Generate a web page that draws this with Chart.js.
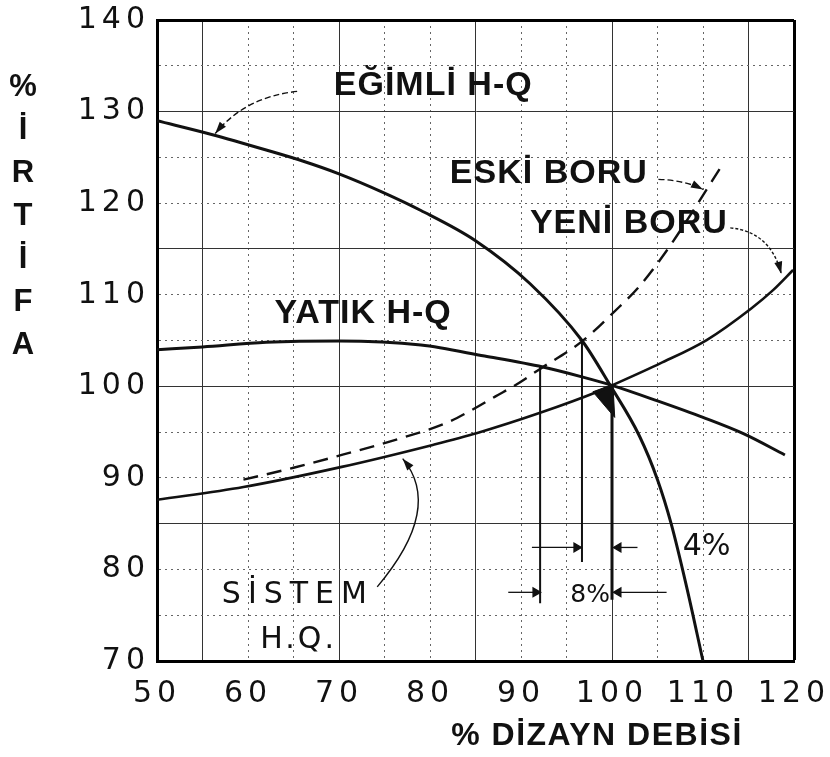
<!DOCTYPE html>
<html>
<head>
<meta charset="utf-8">
<title>H-Q</title>
<script src="https://cdn.jsdelivr.net/npm/chart.js@4.4.1/dist/chart.umd.min.js"></script>
<style>
body { margin: 0; background: #fff; }
#wrap { position: relative; width: 830px; height: 757px; }
#ytitle { position: absolute; left: 3px; top: 64px; width: 40px; text-align: center; color: #111;
  font: bold 31px 'Liberation Sans', Arial, sans-serif; line-height: 43px; }
#xtitle { position: absolute; left: 440px; top: 716px; width: 314px; text-align: center; color: #111;
  font: bold 32px 'Liberation Sans', Arial, sans-serif; line-height: 36px; letter-spacing: 1.5px; white-space: nowrap; }
</style>
</head>
<body>
<div id="wrap">
  <canvas id="hqChart" width="830" height="757"></canvas>
  <div id="ytitle">%<br>İ<br>R<br>T<br>İ<br>F<br>A</div>
  <div id="xtitle">% DİZAYN DEBİSİ</div>
</div>
<script>
// tick labels
var flowTicks = [50, 60, 70, 80, 90, 100, 110, 120];
var headTicks = [70, 80, 90, 100, 110, 120, 130, 140];

// steep pump curve (EĞİMLİ H-Q)
var steepQ = [50, 56, 62, 66, 70, 75, 79, 85, 91, 96.7, 99.8, 103, 105, 106.5, 108.2, 110];
var steepH = [129, 127.5, 125.8, 124.6, 123.2, 121.1, 119.2, 115.9, 111.2, 105, 100.1, 94.6, 89.8, 85, 78.1, 70];

// flat pump curve (YATIK H-Q)
var flatQ = [50, 55, 62, 70, 79, 86, 92.4, 96.8, 100, 105, 110, 114.5, 119];
var flatH = [104, 104.3, 104.8, 104.95, 104.5, 103.3, 102.1, 101, 100.1, 98.4, 96.6, 94.8, 92.5];

// system curve, new pipe (SİSTEM H.Q. / YENİ BORU)
var newPipeQ = [50, 59.5, 70.3, 80.3, 85.2, 92.1, 98.4, 100, 105.3, 110.4, 115.3, 117.7, 119.9];
var newPipeH = [87.6, 89.0, 91.2, 93.6, 94.9, 97.1, 99.4, 100.1, 102.5, 105.05, 108.5, 110.5, 112.7];

// system curve, old pipe (ESKİ BORU) - dashed
var oldPipeQ = [59.5, 65, 70.3, 76.7, 81.8, 84.4, 87.2, 89.5, 92.1, 96.7, 100.2, 103, 106, 109, 112];
var oldPipeH = [89.8, 91.1, 92.5, 94.3, 96.0, 97.3, 98.9, 100.2, 101.9, 104.9, 108.1, 110.9, 114.8, 119.3, 124.0];

// dimension lines under the operating points
var dimQ = [92.1, 96.7, 100];
var dimTop = [102.1, 104.9, 100];
var dimBottom = [76.3, 80.8, 76.7];

// the little arrows pointing at the dimension lines
var arrowFrom = [91.2, 102.8, 88.6, 106];
var arrowTo = [96.1, 100.7, 91.6, 100.7];
var arrowH = [82.4, 82.4, 77.5, 77.5];

// dark wedge at the 100/100 point
var wedgeQ = [97.9, 100.1, 100.3, 97.9];
var wedgeH = [99.4, 100.2, 96.6, 99.4];

function toPoints(xs, ys) {
    return xs.map(function(x, i) { return { x: x, y: ys[i] }; });
}

function isThick(v) {
    // graph paper: heavier line every 15 units
    return Math.abs(v % 15 - 10) < 0.01;
}

var datasets = [];

function curve(xs, ys, width, dash) {
    datasets.push({
        data: toPoints(xs, ys),
        showLine: true,
        borderColor: '#111',
        borderWidth: width,
        borderDash: dash || [],
        pointRadius: 0,
        cubicInterpolationMode: 'monotone',
        fill: false
    });
}

curve(steepQ, steepH, 3);
curve(flatQ, flatH, 3);
curve(newPipeQ, newPipeH, 2.6);
curve(oldPipeQ, oldPipeH, 2.4, [15, 9]);

dimQ.forEach(function(q, i) {
    datasets.push({
        data: [{ x: q, y: dimTop[i] }, { x: q, y: dimBottom[i] }],
        showLine: true,
        borderColor: '#111',
        borderWidth: i === 2 ? 3 : 2,
        pointRadius: 0,
        tension: 0
    });
});

arrowFrom.forEach(function(q, i) {
    var right = arrowTo[i] > q;
    datasets.push({
        data: [{ x: q, y: arrowH[i] }, { x: arrowTo[i], y: arrowH[i] }],
        showLine: true,
        borderColor: '#111',
        borderWidth: 1.3,
        backgroundColor: '#111',
        pointStyle: 'triangle',
        pointRadius: [0, 5],
        rotation: right ? 90 : -90,
        tension: 0
    });
});

datasets.push({
    data: toPoints(wedgeQ, wedgeH),
    showLine: true,
    borderColor: '#111',
    borderWidth: 1,
    backgroundColor: '#111',
    pointRadius: 0,
    tension: 0,
    fill: 'shape'
});

// curve labels and leader arrows, placed in data units
var labelFont = 'bold 34px "Liberation Sans", Arial, sans-serif';
var thinFont = '30px "DejaVu Sans", sans-serif';
var notes = [
    { text: 'EĞİMLİ H-Q', q: 80.3, h: 131.8, font: labelFont, gap: 1 },
    { text: 'ESKİ BORU', q: 93.0, h: 122.2, font: labelFont, gap: 1 },
    { text: 'YENİ BORU', q: 101.8, h: 116.7, font: labelFont, gap: 1 },
    { text: 'YATIK H-Q', q: 72.6, h: 106.9, font: labelFont, gap: 1 },
    { text: 'SİSTEM', q: 65.1, h: 76.3, font: thinFont, gap: 7 },
    { text: 'H.Q.', q: 65.4, h: 71.4, font: thinFont, gap: 3 },
    { text: '4%', q: 110.4, h: 81.6, font: '30px "DejaVu Sans", sans-serif', gap: 0 },
    { text: '8%', q: 97.6, h: 76.4, font: '25px "DejaVu Sans", sans-serif', gap: 0 }
];
var leaders = [
    { from: [65.4, 132.2], via: [59.7, 131.6], to: [56.4, 127.6], dash: [6, 3] },
    { from: [105.1, 122.6], via: [108, 122.5], to: [110.0, 121.5], dash: [6, 3] },
    { from: [113, 117.3], via: [117.4, 116.9], to: [118.6, 112.3], dash: [3, 2] },
    { from: [74.2, 78.1], via: [81.5, 86.7], to: [77.0, 92.1], dash: [] }
];

var notesPlugin = {
    id: 'notes',
    beforeDraw: function(chart) {
        // the scanned tick digits are spaced wide
        chart.ctx.letterSpacing = '5px';
    },
    beforeDatasetsDraw: function(chart) {
        chart.ctx.letterSpacing = '0px';
    },
    afterDatasetsDraw: function(chart) {
        var ctx = chart.ctx;
        var sx = chart.scales.x, sy = chart.scales.y;
        function px(p) { return [sx.getPixelForValue(p[0]), sy.getPixelForValue(p[1])]; }

        ctx.save();
        ctx.fillStyle = '#111';
        ctx.textAlign = 'center';
        ctx.textBaseline = 'alphabetic';
        notes.forEach(function(n) {
            ctx.font = n.font;
            ctx.letterSpacing = n.gap + 'px';
            ctx.fillText(n.text, sx.getPixelForValue(n.q) + n.gap / 2, sy.getPixelForValue(n.h));
        });
        ctx.letterSpacing = '0px';

        ctx.strokeStyle = '#111';
        ctx.lineWidth = 1.4;
        leaders.forEach(function(l) {
            var a = px(l.from), c = px(l.via), b = px(l.to);
            ctx.setLineDash(l.dash);
            ctx.beginPath();
            ctx.moveTo(a[0], a[1]);
            ctx.quadraticCurveTo(c[0], c[1], b[0], b[1]);
            ctx.stroke();
            // arrow head along the end tangent
            ctx.setLineDash([]);
            var ang = Math.atan2(b[1] - c[1], b[0] - c[0]);
            ctx.beginPath();
            ctx.moveTo(b[0], b[1]);
            ctx.lineTo(b[0] - 12 * Math.cos(ang) + 4 * Math.sin(ang), b[1] - 12 * Math.sin(ang) - 4 * Math.cos(ang));
            ctx.lineTo(b[0] - 12 * Math.cos(ang) - 4 * Math.sin(ang), b[1] - 12 * Math.sin(ang) + 4 * Math.cos(ang));
            ctx.closePath();
            ctx.fill();
        });
        ctx.restore();
    }
};

function gridColor(ctx, edge) {
    var v = ctx.tick ? ctx.tick.value : null;
    if (v === edge) return '#000';
    return v !== null && isThick(v) ? '#333' : '#666';
}
function gridWidth(ctx, edge) {
    var v = ctx.tick ? ctx.tick.value : null;
    if (v === edge) return 3;
    return 1;
}
function gridDash(ctx, edge) {
    var v = ctx.tick ? ctx.tick.value : null;
    if (v === null || v === edge || isThick(v)) return [];
    return [2, 4];
}

var tickFont = { family: '"DejaVu Sans", sans-serif', size: 30 };

new Chart(document.getElementById('hqChart').getContext('2d'), {
    type: 'scatter',
    data: { datasets: datasets },
    plugins: [notesPlugin],
    options: {
        responsive: false,
        animation: false,
        devicePixelRatio: 1,
        layout: { padding: { top: 20, right: 36, left: 0, bottom: 0 } },
        plugins: { legend: { display: false }, tooltip: { enabled: false } },
        scales: {
            x: {
                type: 'linear',
                min: 50,
                max: 120,
                // fixed box so the plot area lands where the paper grid is
                afterFit: function(s) { s.height = 96; s.paddingLeft = 0; s.paddingRight = 0; },
                ticks: {
                    stepSize: 5,
                    autoSkip: false,
                    maxRotation: 0,
                    padding: 15,
                    color: '#111',
                    font: tickFont,
                    callback: function(v) { return flowTicks.indexOf(v) >= 0 ? v : ''; }
                },
                grid: {
                    drawTicks: false,
                    color: function(c) { return gridColor(c, 120); },
                    lineWidth: function(c) { return gridWidth(c, 120); }
                },
                border: { display: true, color: '#000', width: 3, dash: function(c) { return gridDash(c, 120); } }
            },
            y: {
                type: 'linear',
                min: 70,
                max: 140,
                afterFit: function(s) { s.width = 157; s.paddingTop = 0; s.paddingBottom = 0; },
                ticks: {
                    stepSize: 5,
                    autoSkip: false,
                    padding: 7,
                    color: '#111',
                    font: tickFont,
                    callback: function(v) { return headTicks.indexOf(v) >= 0 ? v : ''; }
                },
                grid: {
                    drawTicks: false,
                    color: function(c) { return gridColor(c, 140); },
                    lineWidth: function(c) { return gridWidth(c, 140); }
                },
                border: { display: true, color: '#000', width: 3, dash: function(c) { return gridDash(c, 140); } }
            }
        }
    }
});
</script>
</body>
</html>
